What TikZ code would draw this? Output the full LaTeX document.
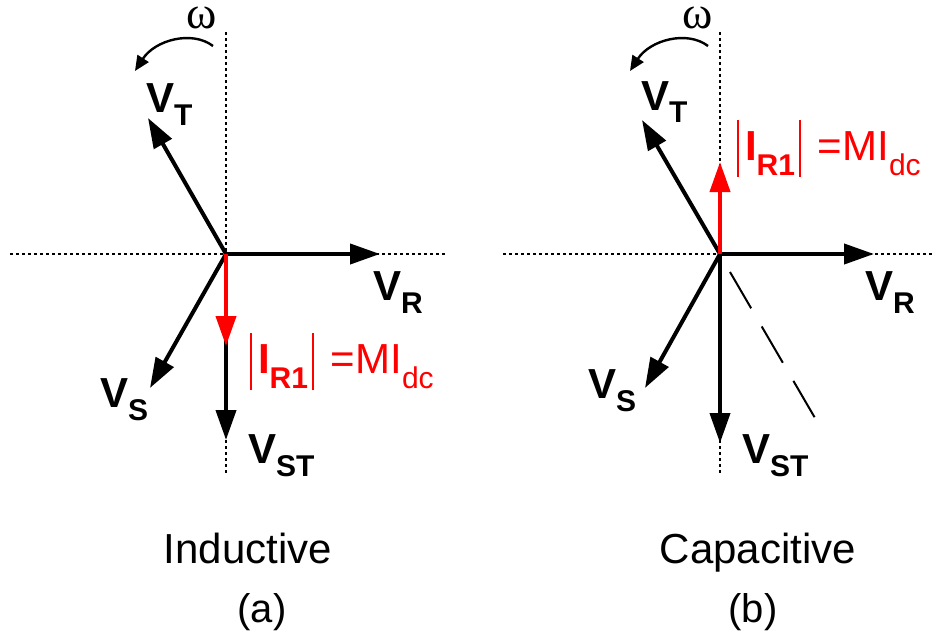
\documentclass[tikz,border=0pt]{standalone}
\usepackage{fontspec}
\setmainfont{Liberation Sans}
\newfontfamily\omegafont{Liberation Serif}
\usetikzlibrary{arrows.meta}
\newcommand\vlab[1]{{\fontsize{42}{42}\selectfont\bfseries V\raisebox{-13pt}{\fontsize{30}{30}\selectfont #1}}}
\newcommand\irlab{{\color{red}\fontsize{42}{42}\selectfont\rule[-17pt]{1.8pt}{57pt}\hspace{6pt}{\bfseries I\raisebox{-15pt}{\fontsize{30}{30}\selectfont R1}}\hspace{4pt}\rule[-17pt]{1.8pt}{57pt}\hspace{17pt}=MI\raisebox{-15pt}{\fontsize{30}{30}\selectfont dc}}}
\tikzset{
  axisline/.style={line width=1.8pt, dash pattern=on 3pt off 3pt},
  vec/.style={line width=4pt, -{Triangle[length=30pt,width=20pt]}},
  redvec/.style={vec, red},
  rotarc/.style={line width=2.4pt, -{Triangle[length=15pt,width=13pt]}},
  lab/.style={inner sep=0pt, anchor=base west},
  captext/.style={inner sep=0pt, anchor=base, font=\fontsize{42}{42}\selectfont},
  subcap/.style={inner sep=0pt, anchor=base, font=\fontsize{40}{40}\selectfont},
  omlab/.style={inner sep=0pt, anchor=base, text height=15pt, text depth=0pt, font=\omegafont\fontsize{46}{46}\selectfont},
  dashline/.style={line width=2pt, dash pattern=on 42pt off 21pt}
}
\begin{document}
\begin{tikzpicture}[x=1pt,y=-1pt]
\useasboundingbox (0,0) rectangle (934,634);
% ---------- (a) inductive ----------
\coordinate (O1) at (226,254);
\coordinate (hL1) at (10,254);
\coordinate (hR1) at (446,254);
\coordinate (vT1) at (226,32);
\coordinate (vB1) at (226,473);
\coordinate (R1) at (380,254);
\coordinate (T1) at (148,118);
\coordinate (S1) at (150,388);
\coordinate (ST1) at (226,440);
\coordinate (I1) at (226,346);
\coordinate (w1s) at (213,46);
\coordinate (w1e) at (135,71);
\draw[axisline] (hL1) -- (hR1);
\draw[axisline] (vT1) -- (vB1);
\draw[vec] (O1) -- (R1);
\draw[vec] (O1) -- (T1);
\draw[vec] (O1) -- (S1);
\draw[vec] (O1) -- (ST1);
\draw[redvec] (O1) -- (I1);
\draw[rotarc] (w1s) .. controls (192,30) and (155,40) .. (w1e);
\node[omlab] (om1) at (202,29) {ω};
\node[lab] (lT1) at (146,112) {\vlab{T}};
\node[lab] (lR1) at (373,300) {\vlab{R}};
\node[lab] (lS1) at (100,407) {\vlab{S}};
\node[lab] (lST1) at (248,463) {\vlab{ST}};
\node[lab] (lI1) at (250,373) {\irlab};
\node[captext] (ca) at (248,563) {Inductive};
\node[subcap] (na) at (262,622) {(a)};
% ---------- (b) capacitive ----------
\coordinate (O2) at (720,254);
\coordinate (hL2) at (503,254);
\coordinate (hR2) at (932,254);
\coordinate (vT2) at (720,32);
\coordinate (vB2) at (720,473);
\coordinate (R2) at (874,254);
\coordinate (T2) at (642,120);
\coordinate (S2) at (645,388);
\coordinate (ST2) at (720,443);
\coordinate (I2) at (720,162);
\coordinate (d2s) at (730,272);
\coordinate (d2e) at (815,418);
\coordinate (w2s) at (708,46);
\coordinate (w2e) at (630,71);
\draw[axisline] (hL2) -- (hR2);
\draw[axisline] (vT2) -- (vB2);
\draw[dashline] (d2s) -- (d2e);
\draw[vec] (O2) -- (R2);
\draw[vec] (O2) -- (T2);
\draw[vec] (O2) -- (S2);
\draw[vec] (O2) -- (ST2);
\draw[redvec] (O2) -- (I2);
\draw[rotarc] (w2s) .. controls (687,30) and (650,40) .. (w2e);
\node[omlab] (om2) at (698,29) {ω};
\node[lab] (lT2) at (641,110) {\vlab{T}};
\node[lab] (lR2) at (865,300) {\vlab{R}};
\node[lab] (lS2) at (588,398) {\vlab{S}};
\node[lab] (lST2) at (742,463) {\vlab{ST}};
\node[lab] (lI2) at (737,160) {\irlab};
\node[captext] (cb) at (758,563) {Capacitive};
\node[subcap] (nb) at (753,622) {(b)};
\end{tikzpicture}
\end{document}
